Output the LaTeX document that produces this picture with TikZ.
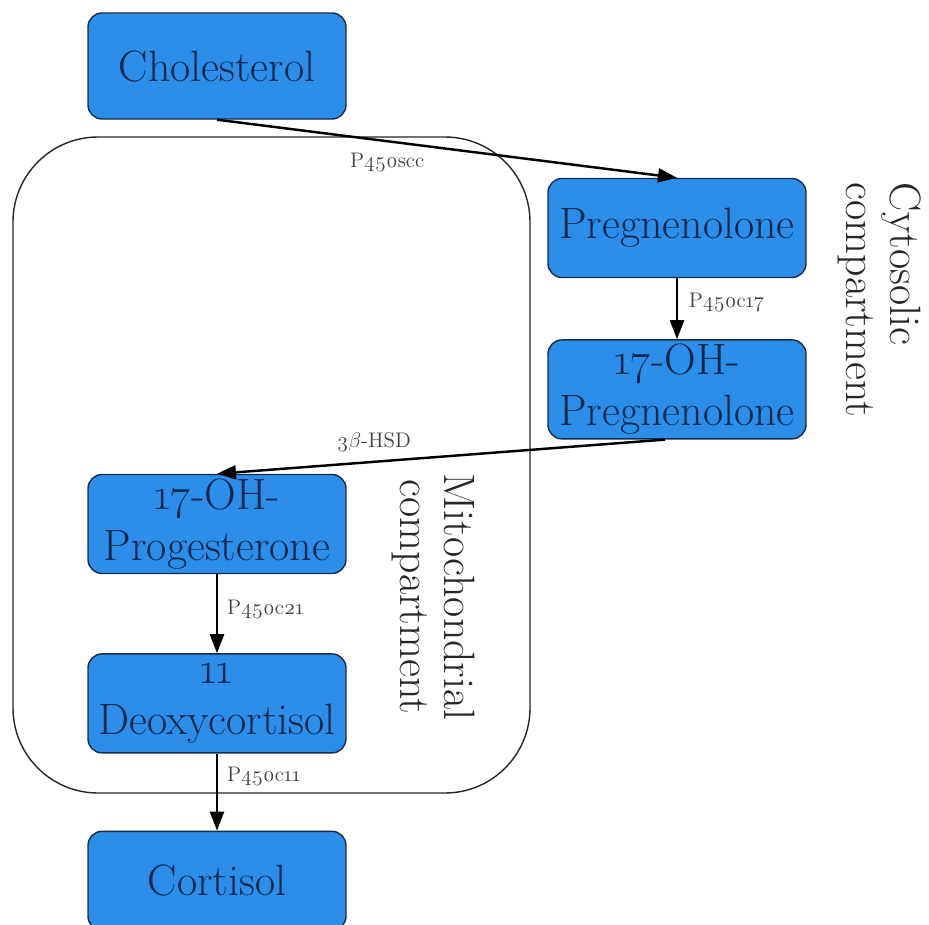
\documentclass[tikz,border=0pt]{standalone}
\usepackage{fontspec}
\setmainfont{Latin Modern Roman}[Numbers=OldStyle]
\usepackage{xcolor}
\usepackage{tikz}
\usetikzlibrary{arrows.meta,positioning}

\definecolor{boxblue}{RGB}{45,142,234}
\definecolor{boxline}{RGB}{22,44,72}
\definecolor{boxtext}{RGB}{12,40,78}

\begin{document}
\begin{tikzpicture}[
    box/.style={rectangle, draw=boxline, line width=0.8pt, fill=boxblue, text=boxtext, minimum width=5.16cm, minimum height=1.98cm, inner sep=1pt, align=center, font=\fontsize{25}{29}\selectfont, rounded corners=8pt},
    arrow/.style={-{Triangle[length=3.8mm, width=2.8mm]}, line width=1.4pt, black},
    enzyme/.style={font=\fontsize{12}{14}\selectfont, text=black!75, inner sep=1pt},
    comp/.style={font=\fontsize{25}{25}\selectfont, text=black!85, rotate=-90},
]
\useasboundingbox (0,0) rectangle (18.58,-18.5);

% --- Mitochondrial compartment ---
\draw[black!85, line width=0.8pt, rounded corners=1.7cm] (0.26,-2.74) rectangle (10.6,-15.86);

% --- Steroid pathway ---
\node[box, minimum height=2.12cm] (chol) at (4.34,-1.32) {Cholesterol};
\node[box] (preg) at (13.54,-4.56) {Pregnenolone};
\node[box, below=1.22cm of preg] (ohpreg) {17-OH-\\Pregnenolone};
\node[box] (ohprog) at (4.34,-10.48) {17-OH-\\Progesterone};
\node[box, below=1.58cm of ohprog] (deoxy) {11\\Deoxycortisol};
\node[box, below=1.54cm of deoxy] (cortisol) {Cortisol};

\draw[arrow] (chol.south) -- node[enzyme, below=5pt, pos=0.37] {P450scc} (preg.north);
\draw[arrow] (preg) -- node[enzyme, right=5pt, pos=0.4] {P450c17} (ohpreg);
\draw[arrow] ([xshift=-0.24cm]ohpreg.south) -- node[enzyme, above=4pt, pos=0.65] {3\(\beta\)-HSD} (ohprog.north);
\draw[arrow] (ohprog) -- node[enzyme, right=4pt, pos=0.45] {P450c21} (deoxy);
\draw[arrow] (deoxy) -- node[enzyme, right=4pt, pos=0.3] {P450c11} (cortisol);

% Compartment labels
\node[comp, align=left] (cyto) at (17.6,-6.0) {Cytosolic\\compartment};
\node[comp, align=center] (mito) at (8.66,-11.94) {Mitochondrial\\compartment};

\end{tikzpicture}
\end{document}
